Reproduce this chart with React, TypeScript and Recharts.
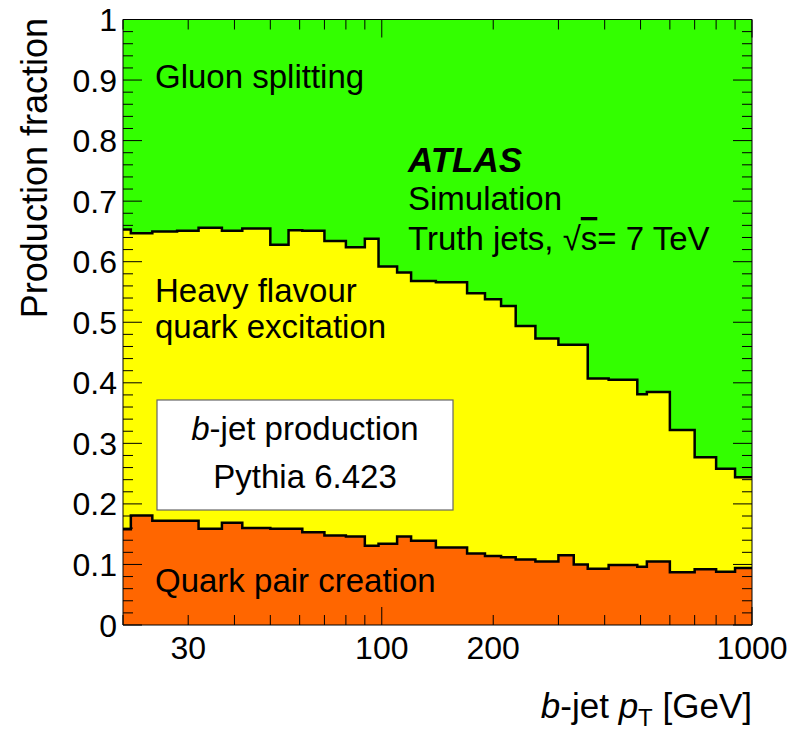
import React from 'react';
import { AreaChart, Area, XAxis, YAxis } from 'recharts';

// b-jet pT bin edges [GeV]
const ptEdges = [
  20, 21, 24, 28, 32, 37, 42, 50, 56, 61, 70, 80, 90, 98, 110, 120, 140, 170,
  190, 210, 230, 260, 300, 330, 360, 410, 490, 520, 600, 700, 800, 900, 1000,
];

// production fractions per bin
const quarkPairCreation = [
  0.158, 0.181, 0.172, 0.172, 0.159, 0.169, 0.16, 0.159, 0.159, 0.153, 0.148,
  0.146, 0.131, 0.134, 0.146, 0.139, 0.128, 0.118, 0.114, 0.112, 0.108, 0.105,
  0.115, 0.1, 0.093, 0.099, 0.096, 0.105, 0.087, 0.092, 0.088, 0.094,
];
const flavourExcitation = [
  0.495, 0.466, 0.478, 0.479, 0.497, 0.482, 0.495, 0.469, 0.493, 0.498, 0.486,
  0.478, 0.507, 0.458, 0.436, 0.429, 0.438, 0.43, 0.424, 0.415, 0.386, 0.368,
  0.348, 0.363, 0.314, 0.306, 0.285, 0.28, 0.235, 0.185, 0.17, 0.15,
];
const gluonSplitting = [
  0.347, 0.353, 0.35, 0.349, 0.344, 0.349, 0.345, 0.372, 0.348, 0.349, 0.366,
  0.376, 0.362, 0.408, 0.418, 0.432, 0.434, 0.452, 0.462, 0.473, 0.506, 0.527,
  0.537, 0.537, 0.593, 0.595, 0.619, 0.615, 0.678, 0.723, 0.742, 0.756,
];

const xTicks = [20, 30, 40, 50, 60, 70, 80, 90, 100, 200, 300, 400, 500, 600, 700, 800, 900, 1000];
const xTickLabels = [30, 100, 200, 1000];
const xMajorTicks = [100, 1000];
const yTicks = Array.from({ length: 51 }, (_, i) => i / 50);

const FONT = '"Liberation Sans", Arial, Helvetica, sans-serif';
const GREEN = '#33ff00';
const YELLOW = '#ffff00';
const ORANGE = '#ff6600';

// cumulative boundaries, one point per bin edge (last bin repeated at the upper edge)
const data = ptEdges.map((pt, i) => {
  const b = Math.min(i, quarkPairCreation.length - 1);
  const qpc = quarkPairCreation[b];
  const hfe = qpc + flavourExcitation[b];
  return { pt, qpc, hfe, all: hfe + gluonSplitting[b] };
});

const isMajorY = (v: number) => Math.abs(v * 10 - Math.round(v * 10)) < 1e-6;
const formatY = (v: number) => (v === 0 ? '0' : v === 1 ? '1' : v.toFixed(1));

const BottomTick = (props: any) => {
  const { x, y, payload } = props;
  const v = payload.value;
  const len = xMajorTicks.includes(v) ? 18 : 10;
  return (
    <g>
      <line x1={x} x2={x} y1={y} y2={y - len} stroke="#000" strokeWidth={1} />
      {xTickLabels.includes(v) && (
        <text x={x} y={y + 34} textAnchor="middle" fontSize={32} fontFamily={FONT} fill="#000">
          {v}
        </text>
      )}
    </g>
  );
};

const TopTick = (props: any) => {
  const { x, y, payload } = props;
  const len = xMajorTicks.includes(payload.value) ? 18 : 10;
  return <line x1={x} x2={x} y1={y} y2={y + len} stroke="#000" strokeWidth={1} />;
};

const LeftTick = (props: any) => {
  const { x, y, payload } = props;
  const v = payload.value;
  const major = isMajorY(v);
  return (
    <g>
      <line x1={x} x2={x + (major ? 19 : 10)} y1={y} y2={y} stroke="#000" strokeWidth={1} />
      {major && (
        <text x={x - 6} y={y + 11.5} textAnchor="end" fontSize={32} fontFamily={FONT} fill="#000">
          {formatY(v)}
        </text>
      )}
    </g>
  );
};

const RightTick = (props: any) => {
  const { x, y, payload } = props;
  const len = isMajorY(payload.value) ? 19 : 10;
  return <line x1={x} x2={x - len} y1={y} y2={y} stroke="#000" strokeWidth={1} />;
};

const Annotations = () => (
  <svg
    width={802}
    height={731}
    style={{ position: 'absolute', left: 0, top: 0, pointerEvents: 'none' }}
    fontFamily={FONT}
    fill="#000"
  >
    <text x={155} y={88} fontSize={33}>Gluon splitting</text>
    <text x={408} y={172} fontSize={35} fontWeight="bold" fontStyle="italic">ATLAS</text>
    <text x={408} y={210} fontSize={33}>Simulation</text>
    <text x={408} y={250} fontSize={33}>
      Truth jets, √<tspan style={{ textDecoration: 'overline' }}>s</tspan>= 7 TeV
    </text>
    <text x={155} y={302} fontSize={33}>Heavy flavour</text>
    <text x={155} y={338} fontSize={33}>quark excitation</text>
    <text x={155} y={592} fontSize={33}>Quark pair creation</text>

    <rect x={157} y={400} width={296} height={110} fill="#fff" stroke="#666" strokeWidth={1.2} />
    <text x={305} y={440} fontSize={33} textAnchor="middle">
      <tspan fontStyle="italic">b</tspan>-jet production
    </text>
    <text x={305} y={488} fontSize={33} textAnchor="middle">Pythia 6.423</text>

    <text x={47} y={18} fontSize={36} textAnchor="end" transform="rotate(-90, 47, 18)">
      Production fraction
    </text>
    <text x={752} y={718} fontSize={35} textAnchor="end">
      <tspan fontStyle="italic">b</tspan>-jet <tspan fontStyle="italic">p</tspan>
      <tspan fontSize={24} dy={8}>T</tspan>
      <tspan dy={-8}> [GeV]</tspan>
    </text>
  </svg>
);

export default function App() {
  return (
    <div style={{ position: 'absolute', left: 0, top: 0, width: 802, height: 731, background: '#fff' }}>
      <AreaChart
        width={802}
        height={731}
        data={data}
        margin={{ top: 9.5, right: 40, bottom: 66, left: 63 }}
      >
        <XAxis
          xAxisId="bottom"
          dataKey="pt"
          type="number"
          scale="log"
          domain={[20, 1000]}
          allowDataOverflow
          ticks={xTicks}
          interval={0}
          tickSize={0}
          tickMargin={0}
          tickLine={false}
          axisLine={{ stroke: '#000', strokeWidth: 1 }}
          height={40}
          tick={BottomTick}
        />
        <XAxis
          xAxisId="top"
          orientation="top"
          dataKey="pt"
          type="number"
          scale="log"
          domain={[20, 1000]}
          allowDataOverflow
          ticks={xTicks}
          interval={0}
          tickSize={0}
          tickMargin={0}
          tickLine={false}
          axisLine={{ stroke: '#000', strokeWidth: 1 }}
          height={10}
          tick={TopTick}
        />
        <YAxis
          yAxisId="left"
          type="number"
          domain={[0, 1]}
          allowDataOverflow
          ticks={yTicks}
          interval={0}
          tickSize={0}
          tickMargin={0}
          tickLine={false}
          axisLine={{ stroke: '#000', strokeWidth: 1 }}
          width={60}
          tick={LeftTick}
        />
        <YAxis
          yAxisId="right"
          orientation="right"
          type="number"
          domain={[0, 1]}
          allowDataOverflow
          ticks={yTicks}
          interval={0}
          tickSize={0}
          tickMargin={0}
          tickLine={false}
          axisLine={{ stroke: '#000', strokeWidth: 1 }}
          width={10}
          tick={RightTick}
        />
        <Area
          xAxisId="bottom"
          yAxisId="left"
          type="stepAfter"
          dataKey="all"
          fill={GREEN}
          fillOpacity={1}
          stroke="none"
          isAnimationActive={false}
        />
        <Area
          xAxisId="bottom"
          yAxisId="left"
          type="stepAfter"
          dataKey="hfe"
          fill={YELLOW}
          fillOpacity={1}
          stroke="#000"
          strokeWidth={2.5}
          isAnimationActive={false}
        />
        <Area
          xAxisId="bottom"
          yAxisId="left"
          type="stepAfter"
          dataKey="qpc"
          fill={ORANGE}
          fillOpacity={1}
          stroke="#000"
          strokeWidth={2.5}
          isAnimationActive={false}
        />
      </AreaChart>
      <Annotations />
    </div>
  );
}
